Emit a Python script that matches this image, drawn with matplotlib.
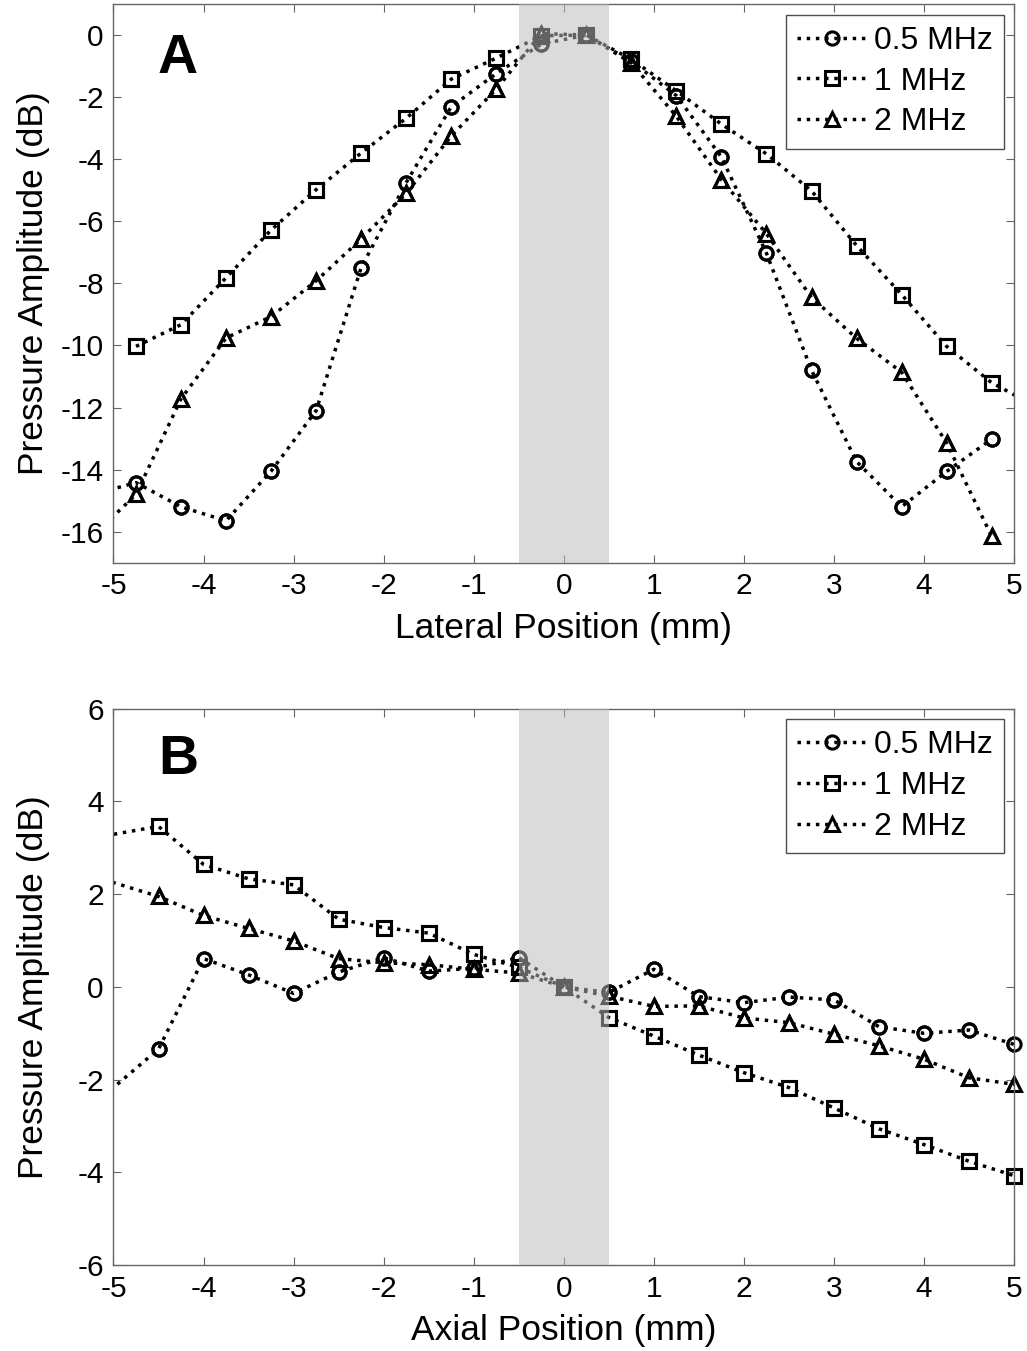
import matplotlib
matplotlib.use("Agg")
import matplotlib.pyplot as plt
import numpy as np

plt.rcParams["font.family"] = ["Liberation Sans", "DejaVu Sans"]
plt.rcParams["axes.unicode_minus"] = False  # plain hyphen minus signs, as in the original

# ---------------------------------------------------------------------------
# Data
# ---------------------------------------------------------------------------
labels = ["0.5 MHz", "1 MHz", "2 MHz"]
markers = ["o", "s", "^"]

# panel A: lateral profile (end points lie outside the axes and get clipped)
lateral_mm = [-5.25, -4.75, -4.25, -3.75, -3.25, -2.75, -2.25, -1.75, -1.25, -0.75, -0.25,
              0.25, 0.75, 1.25, 1.75, 2.25, 2.75, 3.25, 3.75, 4.25, 4.75, 5.25]
lat_05 = [-14.82, -14.42, -15.2, -15.65, -14.05, -12.1, -7.49, -4.75, -2.31, -1.24, -0.29,
          0.0, -0.85, -1.95, -3.93, -7.03, -10.8, -13.74, -15.2, -14.06, -13.02, np.nan]
lat_1 = [np.nan, -10.03, -9.33, -7.82, -6.28, -4.98, -3.80, -2.68, -1.42, -0.74, -0.02,
         0.0, -0.78, -1.8, -2.87, -3.83, -5.02, -6.78, -8.36, -10.03, -11.2, -11.98]
lat_2 = [-16.2, -14.8, -11.72, -9.76, -9.07, -7.92, -6.57, -5.1, -3.25, -1.74, 0.05,
         0.0, -0.9, -2.62, -4.66, -6.4, -8.45, -9.77, -10.86, -13.14, -16.15, np.nan]

# panel B: axial profile
axial_mm = [-5.5, -4.5, -4, -3.5, -3, -2.5, -2, -1.5, -1, -0.5, 0,
            0.5, 1, 1.5, 2, 2.5, 3, 3.5, 4, 4.5, 5]
ax_05 = [-3.0, -1.34, 0.61, 0.26, -0.14, 0.32, 0.63, 0.34, 0.4, 0.63, 0.0,
         -0.12, 0.38, -0.21, -0.34, -0.22, -0.28, -0.86, -1.0, -0.93, -1.24]
ax_1 = [3.12, 3.46, 2.64, 2.33, 2.2, 1.46, 1.28, 1.16, 0.7, 0.42, 0.0,
        -0.66, -1.06, -1.47, -1.85, -2.17, -2.61, -3.06, -3.4, -3.76, -4.07]
ax_2 = [2.55, 1.95, 1.54, 1.26, 0.99, 0.61, 0.52, 0.48, 0.38, 0.3, 0.0,
        -0.2, -0.42, -0.41, -0.67, -0.77, -1.02, -1.27, -1.56, -1.96, -2.1]

focal_zone = (-0.5, 0.5)

# ---------------------------------------------------------------------------
# Plot
# ---------------------------------------------------------------------------
fig = plt.figure(figsize=(10.27, 13.51), dpi=100)
ax_a = fig.add_axes([0.1105, 0.5835, 0.877, 0.4135])
ax_b = fig.add_axes([0.1105, 0.0635, 0.877, 0.412])

msizes = {"o": 9.5, "s": 10, "^": 10.5}


def draw_panel(ax, x, series, ylim, yticks, xlabel, letter, letter_xy):
    x = np.asarray(x)
    for y, m, lab in zip(series, markers, labels):
        y = np.asarray(y, dtype=float)
        ax.plot(x, y, linestyle=":", color="black", lw=2.5, marker=m,
                ms=msizes[m], mfc="none", mec="black", mew=2.2, label=lab, zorder=2)
        # markers sitting on the frame are not clipped (as in the original)
        inside = (np.abs(x) <= 5) & ~np.isnan(y)
        ax.plot(x[inside], y[inside], linestyle="none", marker=m, ms=msizes[m],
                mfc="none", mec="black", mew=2.2, clip_on=False, zorder=2)
    ax.axvspan(*focal_zone, color="0.735", alpha=0.52, lw=0, zorder=3)

    ax.set_xlim(-5, 5)
    ax.set_ylim(*ylim)
    ax.set_xticks(np.arange(-5, 6, 1))
    ax.set_yticks(yticks)
    ax.tick_params(direction="in", top=True, right=True, length=6, width=0.8,
                   color="0.4", labelsize=21.5, pad=7)
    for s in ax.spines.values():
        s.set_color("0.4")
        s.set_linewidth(1)
    ax.set_xlabel(xlabel, fontsize=25.5)
    ax.set_ylabel("Pressure Amplitude (dB)", fontsize=25.5)
    ax.yaxis.set_label_coords(-0.07, 0.5)
    ax.xaxis.set_label_coords(0.5, -0.088)
    ax.text(letter_xy[0], letter_xy[1], letter, fontsize=40, fontweight="bold",
            ha="center", va="center")

    leg = ax.legend(loc="upper right", fontsize=23, fancybox=False, framealpha=1,
                    edgecolor="0.3", borderpad=0.35, labelspacing=0.34,
                    handlelength=2.2, handletextpad=0.2, borderaxespad=0.33)
    leg.get_frame().set_linewidth(1)
    leg.set_zorder(5)


draw_panel(ax_a, lateral_mm, [lat_05, lat_1, lat_2], (-17, 1), np.arange(-16, 1, 2),
           "Lateral Position (mm)", "A", (-4.29, -0.76))
draw_panel(ax_b, axial_mm, [ax_05, ax_1, ax_2], (-6, 6), np.arange(-6, 7, 2),
           "Axial Position (mm)", "B", (-4.28, 4.9))

plt.savefig("out.png", dpi=100)
plt.close()
